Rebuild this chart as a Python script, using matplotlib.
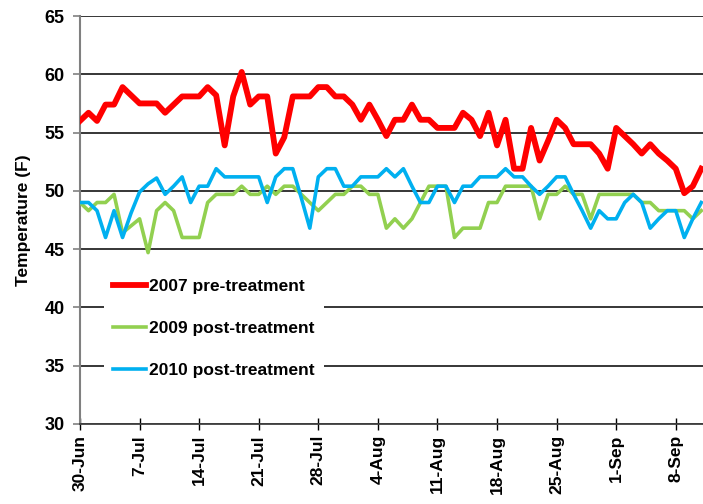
import numpy as np
import pandas as pd
import matplotlib
matplotlib.use('Agg')
import matplotlib.pyplot as plt

plt.rcParams['font.family'] = ['Liberation Sans', 'DejaVu Sans']
plt.rcParams['font.weight'] = 'bold'

# 일자 (6/30 ~ 9/11)
dates = pd.date_range('2010-06-30', periods=74, freq='D')

# 2007 pre-treatment
temp_2007 = [56.0, 56.7, 56.0, 57.4, 57.4, 58.9, 58.2, 57.5, 57.5, 57.5,
             56.7, 57.4, 58.1, 58.1, 58.1, 58.9, 58.2, 53.9, 58.1, 60.2,
             57.4, 58.1, 58.1, 53.2, 54.6, 58.1, 58.1, 58.1, 58.9, 58.9,
             58.1, 58.1, 57.4, 56.1, 57.4, 56.1, 54.7, 56.1, 56.1, 57.4,
             56.1, 56.1, 55.4, 55.4, 55.4, 56.7, 56.1, 54.7, 56.7, 53.9,
             56.1, 51.9, 51.9, 55.4, 52.6, 54.3, 56.1, 55.4, 54.0, 54.0,
             54.0, 53.2, 51.9, 55.4, 54.7, 54.0, 53.2, 54.0, 53.2, 52.6,
             51.9, 49.8, 50.4, 51.9]

# 2009 post-treatment
temp_2009 = [49.0, 48.3, 49.0, 49.0, 49.7, 46.4, 47.0, 47.6, 44.7, 48.3,
             49.0, 48.3, 46.0, 46.0, 46.0, 49.0, 49.7, 49.7, 49.7, 50.4,
             49.7, 49.7, 50.4, 49.7, 50.4, 50.4, 49.7, 49.0, 48.3, 49.0,
             49.7, 49.7, 50.4, 50.4, 49.7, 49.7, 46.8, 47.6, 46.8, 47.6,
             49.0, 50.4, 50.4, 50.4, 46.0, 46.8, 46.8, 46.8, 49.0, 49.0,
             50.4, 50.4, 50.4, 50.4, 47.6, 49.7, 49.7, 50.4, 49.7, 49.7,
             47.6, 49.7, 49.7, 49.7, 49.7, 49.7, 49.0, 49.0, 48.3, 48.3,
             48.3, 48.3, 47.6, 48.3]

# 2010 post-treatment
temp_2010 = [49.0, 49.0, 48.3, 46.0, 48.3, 46.0, 48.1, 49.9, 50.6, 51.1,
             49.7, 50.4, 51.2, 49.0, 50.4, 50.4, 51.9, 51.2, 51.2, 51.2,
             51.2, 51.2, 49.0, 51.2, 51.9, 51.9, 49.4, 46.8, 51.2, 51.9,
             51.9, 50.4, 50.4, 51.2, 51.2, 51.2, 51.9, 51.2, 51.9, 50.4,
             49.0, 49.0, 50.4, 50.4, 49.0, 50.4, 50.4, 51.2, 51.2, 51.2,
             51.9, 51.2, 51.2, 50.4, 49.7, 50.4, 51.2, 51.2, 49.7, 48.3,
             46.8, 48.3, 47.6, 47.6, 49.0, 49.7, 49.0, 46.8, 47.6, 48.3,
             48.3, 46.0, 47.6, 49.0]

tick_labels = ['30-Jun', '7-Jul', '14-Jul', '21-Jul', '28-Jul', '4-Aug',
               '11-Aug', '18-Aug', '25-Aug', '1-Sep', '8-Sep']
tick_dates = dates[::7]

fig = plt.figure(figsize=(7.03, 5.04), dpi=100)
ax = fig.add_axes([80 / 703, 1 - 424 / 504, 623 / 703, 408 / 504])

ax.plot(dates, temp_2007, color='#FF0000', lw=4.2, label='2007 pre-treatment', zorder=3)
ax.plot(dates, temp_2009, color='#92D050', lw=2.6, label='2009 post-treatment', zorder=3)
ax.plot(dates, temp_2010, color='#00B0F0', lw=2.6, label='2010 post-treatment', zorder=4)

ax.set_ylim(30, 65)
ax.set_yticks(np.arange(30, 66, 5))
ax.set_xlim(dates[0], dates[0] + pd.Timedelta(days=73.2))
ax.set_xticks(tick_dates)
ax.set_xticklabels(tick_labels, rotation=90, fontsize=12.5, fontweight='bold')
ax.tick_params(axis='y', labelsize=13, direction='out', length=5, color='#808080', width=1.2, pad=6)
ax.tick_params(axis='x', direction='inout', length=8, color='black', width=1.0, pad=4)

ax.yaxis.grid(True, color='black', lw=1.1)
ax.set_axisbelow(True)
for s in ['top', 'right']:
    ax.spines[s].set_visible(False)
ax.spines['left'].set_color('#808080')
ax.spines['left'].set_linewidth(1.5)
ax.spines['bottom'].set_color('#404040')
ax.spines['bottom'].set_linewidth(1.3)

ax.set_ylabel('Temperature (F)', fontsize=12.5, fontweight='bold', labelpad=10)

# 범례: 흰 배경으로 격자선 가림
leg = ax.legend(loc='upper left', bbox_to_anchor=(0.039, 0.378), frameon=True,
                fancybox=False, facecolor='white', edgecolor='none', framealpha=1,
                fontsize=12.5, handlelength=1.9, handletextpad=0.2,
                labelspacing=1.55, borderpad=0.5, borderaxespad=0)

fig.savefig('out.png', dpi=100)
